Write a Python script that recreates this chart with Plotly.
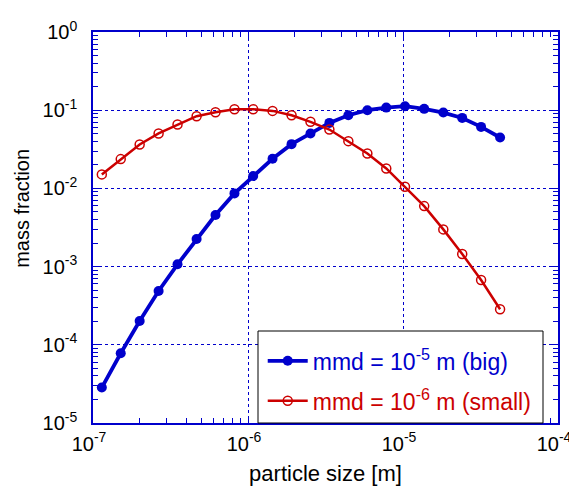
import plotly.graph_objects as go

# particle sizes [m]
particle_size = [1.14e-7, 1.51e-7, 2.00e-7, 2.65e-7, 3.51e-7, 4.66e-7, 6.17e-7, 8.18e-7,
                 1.08e-6, 1.44e-6, 1.91e-6, 2.53e-6, 3.35e-6, 4.44e-6, 5.89e-6, 7.80e-6,
                 1.03e-5, 1.37e-5, 1.82e-5, 2.41e-5, 3.19e-5, 4.23e-5]

# mmd = 1e-5 m (big)
mass_big = [2.84e-5, 7.8e-5, 2.02e-4, 4.88e-4, 1.07e-3, 2.25e-3, 4.56e-3, 8.63e-3,
            1.44e-2, 2.39e-2, 3.68e-2, 5.04e-2, 6.88e-2, 8.63e-2, 0.100, 0.108,
            0.1125, 0.104, 0.0933, 0.0797, 0.0612, 0.0448]

# mmd = 1e-6 m (small)
mass_small = [0.0151, 0.0237, 0.0365, 0.0504, 0.0656, 0.0838, 0.0943, 0.103,
              0.103, 0.098, 0.0863, 0.071, 0.0566, 0.0402, 0.028, 0.018,
              0.0105, 0.00594, 0.00299, 0.00145, 0.000675, 0.000285]

x_exps = [-7, -6, -5, -4]
y_exps = [-5, -4, -3, -2, -1, 0]

BLUE = "#0000cc"
RED = "#cc0000"
FONT = "Liberation Sans, Arial, sans-serif"

x_ticks = [10.0 ** e for e in x_exps]
x_text = ["10<sup>%d</sup>" % e for e in x_exps]
y_ticks = [10.0 ** e for e in y_exps]
y_text = ["10<sup>%d</sup>" % e for e in y_exps]
x_minor = [k * 10.0 ** e for e in x_exps[:-1] for k in range(2, 10)]
y_minor = [k * 10.0 ** e for e in y_exps[:-1] for k in range(2, 10)]

fig = go.Figure()
fig.add_trace(go.Scatter(
    x=particle_size, y=mass_big, mode="lines+markers",
    name="<span style='color:%s'>mmd = 10<sup>-5</sup> m (big)</span>" % BLUE,
    line=dict(color=BLUE, width=3.8),
    marker=dict(symbol="circle", size=10, color=BLUE),
    legendgroup="a"))
fig.add_trace(go.Scatter(
    x=particle_size, y=mass_small, mode="lines+markers",
    name="<span style='color:%s'>mmd = 10<sup>-6</sup> m (small)</span>" % RED,
    line=dict(color=RED, width=2.5),
    marker=dict(symbol="circle-open", size=9, color=RED, line=dict(width=1.5, color=RED)),
    legendgroup="b"))

axis_common = dict(
    type="log", showline=True, linecolor=BLUE, linewidth=1.5, mirror="ticks",
    ticks="inside", ticklen=7, tickcolor=BLUE, tickwidth=1,
    showgrid=True, gridcolor=BLUE, griddash="dot", gridwidth=1.2,
    zeroline=False, tickmode="array", automargin=False,
    tickfont=dict(family=FONT, size=20, color="black"),
)

fig.update_xaxes(range=[-7, -4], tickvals=x_ticks, ticktext=x_text,
                 ticklabelstandoff=2, ticklabelshift=-4,
                 minor=dict(tickmode="array", tickvals=x_minor, ticks="inside",
                            ticklen=5, tickcolor=BLUE, showgrid=False),
                 title=dict(text="particle size [m]", standoff=12,
                            font=dict(family=FONT, size=22, color="black")),
                 **axis_common)
fig.update_yaxes(range=[-5, 0], tickvals=y_ticks, ticktext=y_text, ticklabelstandoff=10,
                 minor=dict(tickmode="array", tickvals=y_minor, ticks="inside",
                            ticklen=5, tickcolor=BLUE, showgrid=False),
                 **axis_common)

fig.add_annotation(text="mass fraction", textangle=-90, xref="paper", yref="paper",
                   x=-0.153, y=0.55, showarrow=False, xanchor="center", yanchor="middle",
                   font=dict(family=FONT, size=20, color="black"))

# legend frame
fig.add_shape(type="rect", xref="paper", yref="paper",
              x0=(258 - 93) / 465, x1=(543 - 93) / 465, y0=0, y1=(423 - 331) / 391,
              line=dict(color="black", width=1), fillcolor="white", layer="above")

fig.update_layout(
    width=569, height=484,
    margin=dict(l=85, r=19, t=24, b=69, autoexpand=False),
    paper_bgcolor="white", plot_bgcolor="white",
    font=dict(family=FONT, color="black"),
    legend=dict(x=0.365, y=0.214, xanchor="left", yanchor="top",
                bgcolor="rgba(0,0,0,0)", borderwidth=0,
                font=dict(family=FONT, size=23), tracegroupgap=7,
                itemwidth=40),
)

fig.write_html("out.html")
